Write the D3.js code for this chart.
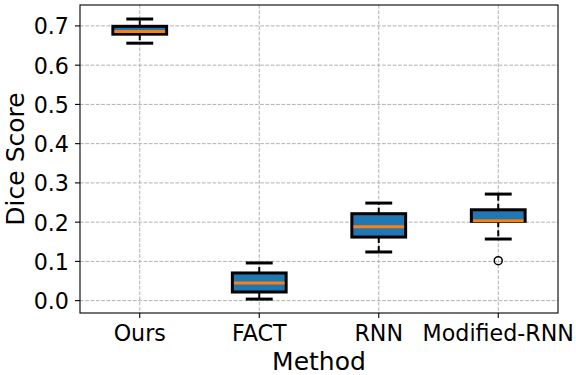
<!DOCTYPE html>
<html>
<head>
<meta charset="utf-8">
<script src="https://cdn.jsdelivr.net/npm/d3@7"></script>
<style>
  html, body { margin: 0; padding: 0; background: #fff; }
  svg { display: block; font-family: "DejaVu Sans", sans-serif; }
</style>
</head>
<body>
<div id="chart"></div>
<script>
// Box plot of Dice scores per method
const methods = ['Ours', 'FACT', 'RNN', 'Modified-RNN'];
const whiskerLow = [0.656, 0.004, 0.124, 0.157];
const q1 = [0.679, 0.022, 0.162, 0.202];
const medians = [0.6855, 0.045, 0.188, 0.2035];
const q3 = [0.699, 0.0705, 0.2215, 0.2315];
const whiskerHigh = [0.7176, 0.096, 0.2486, 0.2715];
const outliers = [[], [], [], [0.1018]];
const yTicks = [0.0, 0.1, 0.2, 0.3, 0.4, 0.5, 0.6, 0.7];

const width = 576, height = 375;
const margin = { top: 5, right: 18, bottom: 62, left: 80 };
const plotW = width - margin.left - margin.right;
const plotH = height - margin.top - margin.bottom;

const svg = d3.select('#chart').append('svg')
    .attr('width', width)
    .attr('height', height);

const g = svg.append('g')
    .attr('transform', `translate(${margin.left},${margin.top})`);

const x = d3.scaleLinear().domain([0.5, 4.5]).range([0, plotW]);
const y = d3.scaleLinear().domain([-0.0315, 0.7533]).range([plotH, 0]);

const rows = methods.map((m, i) => ({
    name: m, pos: i + 1,
    lo: whiskerLow[i], q1: q1[i], med: medians[i], q3: q3[i], hi: whiskerHigh[i],
    fliers: outliers[i]
}));

const boxW = x(1.45) - x(1);
const capW = x(1.225) - x(1);

// grid
const grid = g.append('g').attr('class', 'grid')
    .attr('stroke', '#b0b0b0').attr('stroke-width', 1).attr('stroke-dasharray', '3.7,1.6');
grid.selectAll('line.h').data(yTicks).enter().append('line')
    .attr('x1', 0).attr('x2', plotW)
    .attr('y1', d => y(d)).attr('y2', d => y(d));
grid.selectAll('line.v').data(rows).enter().append('line')
    .attr('y1', 0).attr('y2', plotH)
    .attr('x1', d => x(d.pos)).attr('x2', d => x(d.pos));

// boxes
const bx = g.selectAll('g.box').data(rows).enter().append('g').attr('class', 'box');

// whiskers (dashed)
bx.append('line')
    .attr('x1', d => x(d.pos)).attr('x2', d => x(d.pos))
    .attr('y1', d => y(d.q3)).attr('y2', d => y(d.hi))
    .attr('stroke', '#000').attr('stroke-width', 2).attr('stroke-dasharray', '6,3');
bx.append('line')
    .attr('x1', d => x(d.pos)).attr('x2', d => x(d.pos))
    .attr('y1', d => y(d.q1)).attr('y2', d => y(d.lo))
    .attr('stroke', '#000').attr('stroke-width', 2).attr('stroke-dasharray', '6,3');

// caps
['hi', 'lo'].forEach(k => {
    bx.append('line')
        .attr('x1', d => x(d.pos) - capW / 2).attr('x2', d => x(d.pos) + capW / 2)
        .attr('y1', d => y(d[k])).attr('y2', d => y(d[k]))
        .attr('stroke', '#000').attr('stroke-width', 3);
});

bx.append('rect')
    .attr('x', d => x(d.pos) - boxW / 2)
    .attr('width', boxW)
    .attr('y', d => y(d.q3))
    .attr('height', d => y(d.q1) - y(d.q3))
    .attr('fill', '#1f77b4')
    .attr('stroke', '#000').attr('stroke-width', 3);

bx.append('line')
    .attr('x1', d => x(d.pos) - boxW / 2 + 1.5).attr('x2', d => x(d.pos) + boxW / 2 - 1.5)
    .attr('y1', d => y(d.med)).attr('y2', d => y(d.med))
    .attr('stroke', '#ff7f0e').attr('stroke-width', 3);

bx.selectAll('circle').data(d => d.fliers.map(v => ({ pos: d.pos, v }))).enter()
    .append('circle')
    .attr('cx', d => x(d.pos)).attr('cy', d => y(d.v))
    .attr('r', 4)
    .attr('fill', 'none').attr('stroke', '#000').attr('stroke-width', 1.5);

// frame
g.append('rect')
    .attr('x', 0).attr('y', 0).attr('width', plotW).attr('height', plotH)
    .attr('fill', 'none').attr('stroke', '#000').attr('stroke-width', 1.1);

// y axis ticks
const yt = g.append('g').selectAll('g').data(yTicks).enter().append('g')
    .attr('transform', d => `translate(0,${y(d)})`);
yt.append('line').attr('x1', -5).attr('x2', 0).attr('stroke', '#000').attr('stroke-width', 1.1);
yt.append('text')
    .attr('x', -11).attr('dy', '0.38em')
    .attr('text-anchor', 'end')
    .attr('font-size', '22.2px')
    .attr('fill', '#000')
    .text(d => d.toFixed(1));

// x axis ticks
const xt = g.append('g').selectAll('g').data(rows).enter().append('g')
    .attr('transform', d => `translate(${x(d.pos)},${plotH})`);
xt.append('line').attr('y1', 0).attr('y2', 5).attr('stroke', '#000').attr('stroke-width', 1.1);
xt.append('text')
    .attr('y', 28)
    .attr('text-anchor', 'middle')
    .attr('font-size', '22.2px')
    .attr('fill', '#000')
    .text(d => d.name);

// axis labels
svg.append('text')
    .attr('x', margin.left + plotW / 2).attr('y', 370)
    .attr('text-anchor', 'middle')
    .attr('font-size', '25px')
    .text('Method');

svg.append('text')
    .attr('transform', `translate(24,${margin.top + plotH / 2}) rotate(-90)`)
    .attr('text-anchor', 'middle')
    .attr('font-size', '25px')
    .text('Dice Score');
</script>
</body>
</html>
